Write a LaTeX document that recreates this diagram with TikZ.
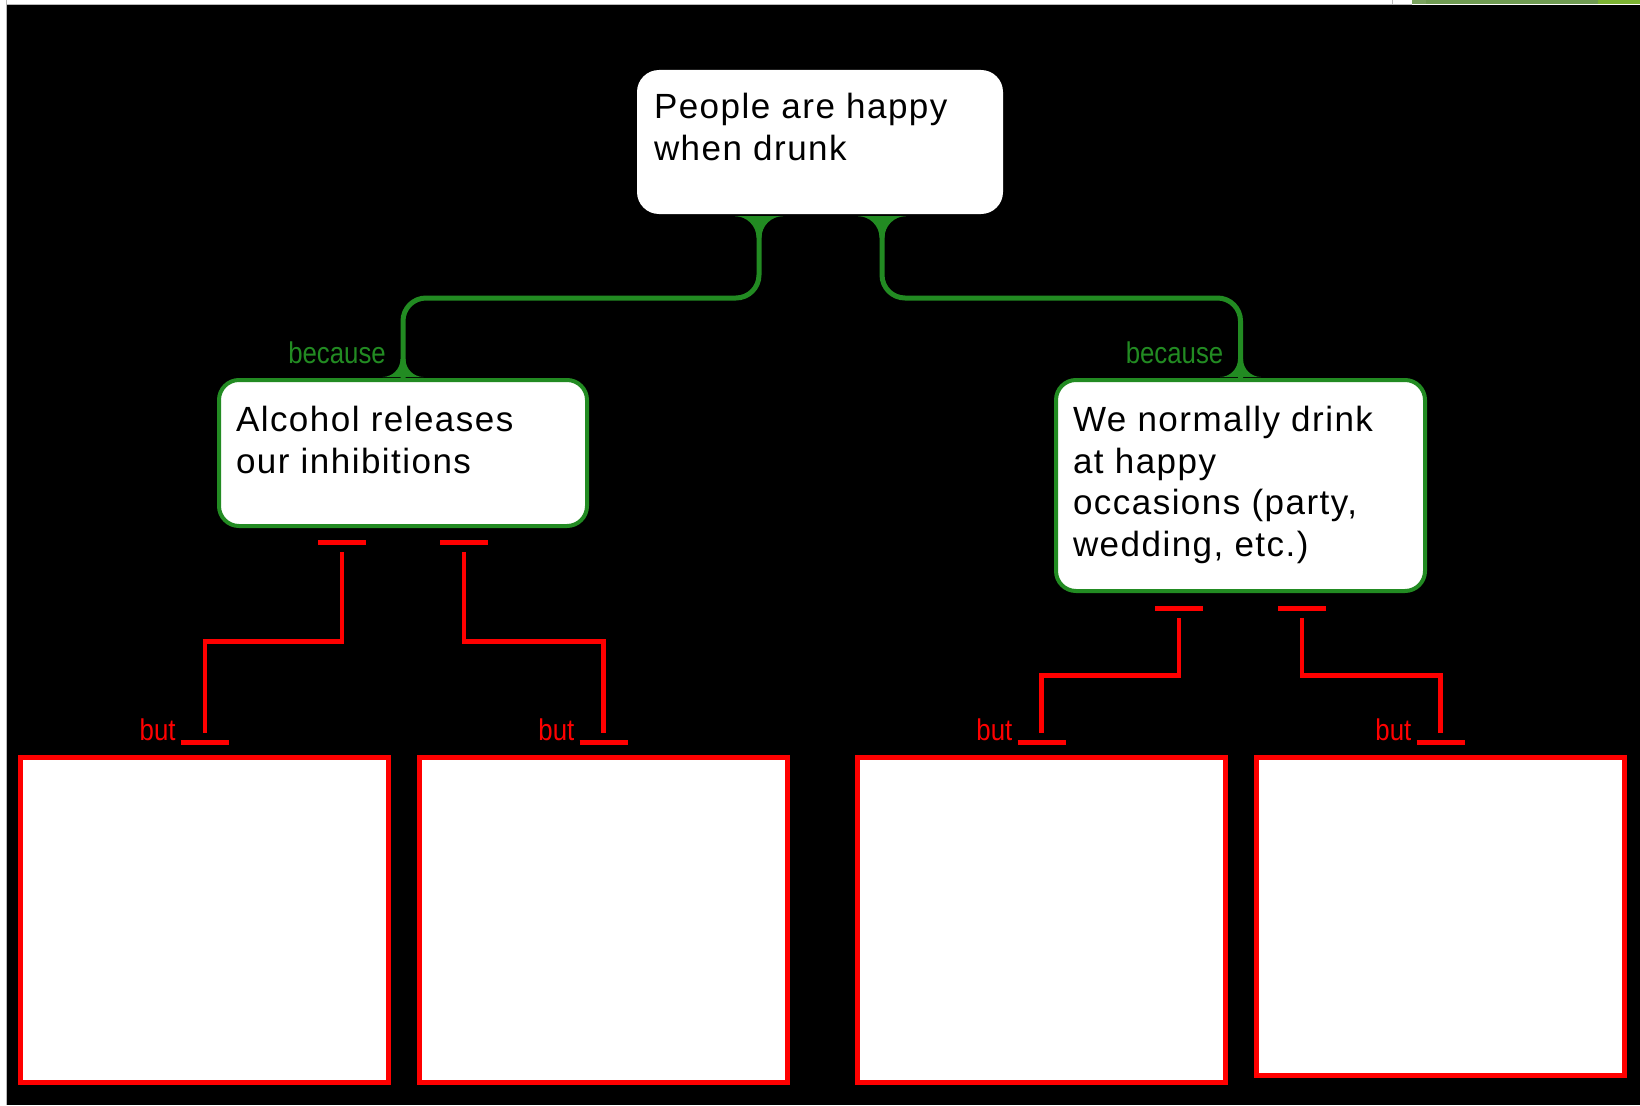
\documentclass[tikz,border=0pt]{standalone}
\usepackage{fontspec}
\setmainfont{Liberation Sans}[LetterSpace=4.2]
\newfontfamily\narrowsans{Liberation Sans}[FakeStretch=0.86]
\usetikzlibrary{calc}
\definecolor{becausegreen}{RGB}{34,139,34}
\definecolor{butred}{RGB}{255,0,0}
\definecolor{stripA}{RGB}{122,163,95}
\definecolor{stripB}{RGB}{111,155,82}
\definecolor{stripC}{RGB}{124,179,50}
% top-aligned text block of fixed height and width
\newcommand\boxedtext[3]{\parbox[c][#1pt][t]{#2pt}{\raggedright #3}}
\tikzset{
  pics/flare/.style={code={
    \fill[becausegreen] (-#1-2.5,0) .. controls (-0.448*#1-2.5,0) and (-2.5,0.448*#1) .. (-2.5,#1)
      -- (2.5,#1) .. controls (2.5,0.448*#1) and (0.448*#1+2.5,0) .. (#1+2.5,0) -- cycle;
  }},
}
\begin{document}
\begin{tikzpicture}[x=1pt,y=-1pt,
  claimbox/.style={rectangle, rounded corners=22pt, fill=white, draw=none,
    inner xsep=17pt, inner ysep=23.5pt, text=black,
    font=\fontsize{35}{41.5}\selectfont},
  reasonbox/.style={rectangle, rounded corners=20pt, fill=white, draw=becausegreen,
    line width=4pt, inner xsep=17pt, inner ysep=26.4pt, text=black,
    font=\fontsize{35}{41.5}\selectfont},
  butbox/.style={rectangle, draw=butred, line width=5pt, fill=white,
    minimum width=368pt, inner sep=0pt},
  becauseline/.style={draw=becausegreen, line width=5pt, rounded corners=23pt},
  becauselbl/.style={text=becausegreen, inner sep=0pt, anchor=base east,
    font=\narrowsans\fontsize{30}{36}\selectfont},
  butline/.style={draw=butred, line width=4.5pt},
  butbar/.style={draw=butred, line width=5pt},
  butlbl/.style={text=butred, inner sep=0pt, anchor=base east,
    font=\narrowsans\fontsize{30}{36}\selectfont},
]
\useasboundingbox (0,0) rectangle (1640,1105);

% page background with its thin frame and the coloured strip at the top right
\fill[white] (0,0) rectangle (1640,1105);
\fill[black] (7,5) rectangle (1640,1105);
\draw[gray!55, line width=1pt] (6.5,0) -- (6.5,1105);
\draw[gray!55, line width=1pt] (6.5,4.5) -- (1412,4.5);
\draw[gray!55, line width=1pt] (1392,0) -- (1392,4.5);
\fill[stripA] (1412,0) rectangle (1426,4.5);
\fill[stripB] (1426,0) rectangle (1598,4.5);
\fill[stripC] (1598,0) rectangle (1640,4.5);

% claim and reasons
\node[claimbox] (claim) at (820,142) {\boxedtext{97}{332}{People are happy\\when drunk}};
\node[reasonbox] (reasonA) at (403,453) {\boxedtext{93.2}{334}{Alcohol releases\\our inhibitions}};
\node[reasonbox] (reasonB) at (1240.5,485.5) {\boxedtext{158.2}{335}{We normally drink\\at happy\\occasions (party,\\wedding, etc.)}};

% objection boxes
\node[butbox, minimum height=325pt] (butA1) at (204.75,919.5) {};
\node[butbox, minimum height=325pt] (butA2) at (603.5,919.5) {};
\node[butbox, minimum height=325pt] (butB1) at (1041.5,919.5) {};
\node[butbox, minimum height=318pt] (butB2) at (1440.5,916) {};

% "because" connectors
\path (reasonA.north) ++(0,-80) coordinate (jA);
\path (reasonB.north) ++(0,-80) coordinate (jB);
\draw[becauseline] ($(claim.south)+(-61,2)$) |- (jA) -- (reasonA.north);
\draw[becauseline] ($(claim.south)+(62,2)$) |- (jB) -- (reasonB.north);
\pic at ($(claim.south)+(-61,2)$) {flare=21.5};
\pic at ($(claim.south)+(62,2)$) {flare=21.5};
\pic[yscale=-1] at ($(reasonA.north)+(0,-1)$) {flare=18};
\pic[yscale=-1] at ($(reasonB.north)+(0,-1)$) {flare=18};
\node[becauselbl] (lblA) at ($(reasonA.north)+(-17,-15)$) {because};
\node[becauselbl] (lblB) at ($(reasonB.north)+(-17,-15)$) {because};

% "but" connectors
\path (butA1.north) ++(0,-113) coordinate (kA1);
\path (butA2.north) ++(0,-113) coordinate (kA2);
\path (butB1.north) ++(0,-79) coordinate (kB1);
\path (butB2.north) ++(0,-79) coordinate (kB2);
\draw[butline] ($(reasonA.south)+(-61,24)$) |- (kA1) -- ($(butA1.north)+(0,-22)$);
\draw[butline] ($(reasonA.south)+(61,24)$) |- (kA2) -- ($(butA2.north)+(0,-22)$);
\draw[butline] ($(reasonB.south)+(-61.5,25)$) |- (kB1) -- ($(butB1.north)+(0,-22)$);
\draw[butline] ($(reasonB.south)+(61.5,25)$) |- (kB2) -- ($(butB2.north)+(0,-22)$);
\draw[butbar] ($(reasonA.south)+(-85,14.5)$) -- ++(48,0);
\draw[butbar] ($(reasonA.south)+(37,14.5)$) -- ++(48,0);
\draw[butbar] ($(reasonB.south)+(-85.5,15.5)$) -- ++(48,0);
\draw[butbar] ($(reasonB.south)+(37.5,15.5)$) -- ++(48,0);
\foreach \b in {butA1,butA2,butB1,butB2}{
  \draw[butbar] ($(\b.north)+(-24,-12)$) -- ++(48,0);
  \node[butlbl] (lbl\b) at ($(\b.north)+(-29,-14)$) {but};
}
\end{tikzpicture}
\end{document}
